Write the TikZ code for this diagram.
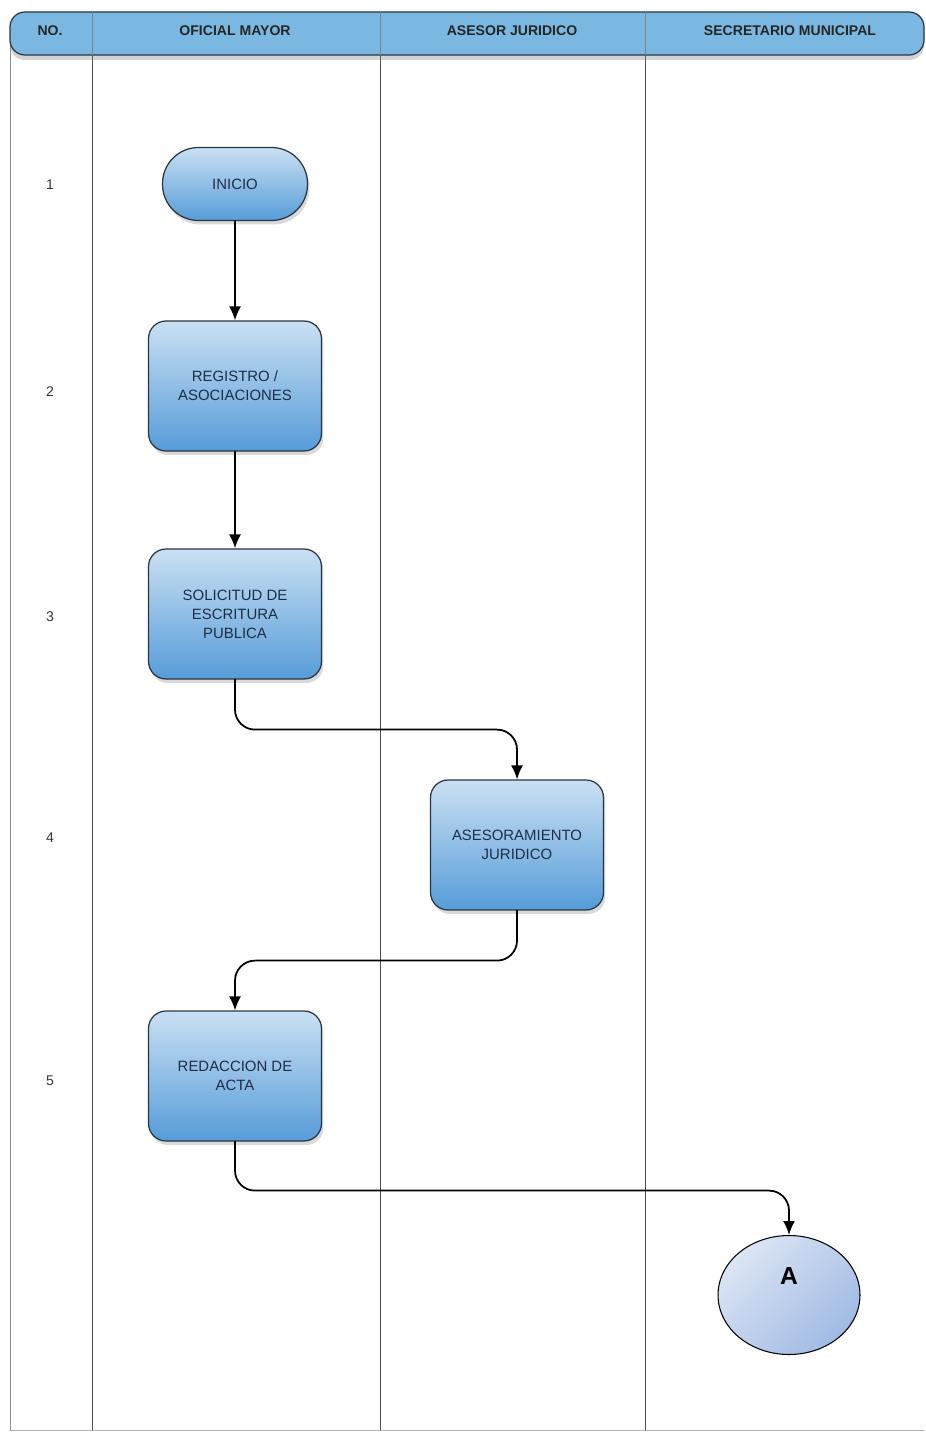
\documentclass[tikz,border=0pt]{standalone}
\usepackage{fontspec}
\setmainfont{Liberation Sans}
\usetikzlibrary{positioning, shapes.geometric, shadows, arrows.meta}

\definecolor{azulcab}{RGB}{122,184,226}
\definecolor{azulclaro}{RGB}{202,224,243}
\definecolor{azulfuerte}{RGB}{86,156,216}
\definecolor{bordecaja}{RGB}{40,52,66}
\definecolor{textocaja}{RGB}{30,45,72}
\definecolor{elipsea}{RGB}{220,229,244}
\definecolor{elipseb}{RGB}{160,186,228}

\tikzset{
	proceso/.style={draw=bordecaja, line width=0.7pt, rounded corners=0.35cm, top color=azulclaro, bottom color=azulfuerte, minimum width=3.46cm, minimum height=2.6cm, align=center, text=textocaja, font=\fontsize{8.5}{10.8}\selectfont, drop shadow={opacity=0.3, shadow xshift=0.04cm, shadow yshift=-0.08cm}},
	terminal/.style={proceso, rounded corners=0.72cm, minimum width=2.9cm, minimum height=1.46cm},
	conector/.style={ellipse, draw=black, line width=0.6pt, minimum width=2.84cm, minimum height=2.38cm, top color=elipsea, bottom color=elipseb, shading angle=45},
	flecha/.style={-{Latex[length=2.8mm,width=2.4mm]}, line width=1pt, rounded corners=0.4cm},
	carril/.style={draw=black!70, line width=0.5pt},
	cabecera/.style={font=\bfseries\fontsize{8}{9}\selectfont, text=black!85},
	numero/.style={font=\fontsize{8}{9}\selectfont, text=black!80}
}

\begin{document}
\begin{tikzpicture}[x=0.02cm, y=-0.02cm, line cap=round, line join=round]
	\useasboundingbox (0,0) rectangle (926,1433);
	
	% 1. Bordes y carriles
	\draw[black!30] (10,1430) -- (924,1430);
	\draw[black!45] (10,40) -- (10,1430);
	\foreach \x in {92,380,645}
		\draw[carril] (\x,55) -- (\x,1430);
	
	% 2. Cabecera
	\draw[draw=bordecaja, line width=0.7pt, fill=azulcab, rounded corners=0.3cm, drop shadow={opacity=0.35, shadow xshift=0cm, shadow yshift=-0.1cm}] (10,12) rectangle (924,55);
	\foreach \x in {92,380,645}
		\draw[bordecaja!60] (\x,12) -- (\x,55);
	\node[cabecera] (hno) at (50,31) {NO.};
	\node[cabecera] (hoficial) at (235,31) {OFICIAL MAYOR};
	\node[cabecera] (hasesor) at (512,31) {ASESOR JURIDICO};
	\node[cabecera] (hsecretario) at (790,31) {SECRETARIO MUNICIPAL};
	
	% 3. Numeros de fila
	\foreach \n/\y in {1/185, 2/392, 3/617, 4/838, 5/1081}
		\node[numero] (fila\n) at (50,\y) {\n};
	
	% 4. Actividades
	\node[terminal] (inicio) at (235,184) {INICIO};
	\node[proceso] (registro) at (235,386) {REGISTRO /\\ASOCIACIONES};
	\node[proceso] (solicitud) at (235,614) {SOLICITUD DE\\ESCRITURA\\PUBLICA};
	\node[proceso] (asesor) at (517,845) {ASESORAMIENTO\\JURIDICO};
	\node[proceso] (redaccion) at (235,1076) {REDACCION DE\\ACTA};
	
	% 5. Conector de pagina
	\node[conector] (conA) at (789,1295) {};
	\node[font=\bfseries\fontsize{14}{16}\selectfont] (letraA) at (789,1276) {A};
	
	% 6. Flechas
	\draw[flecha] (inicio) -- (registro);
	\draw[flecha] (registro) -- (solicitud);
	\draw[flecha] (solicitud.south) -- ++(0,50) -| (asesor.north);
	\draw[flecha] (asesor.south) -- ++(0,50) -| (redaccion.north);
	\draw[flecha] (redaccion.south) -- ++(0,49) -| (conA.north);
\end{tikzpicture}
\end{document}
